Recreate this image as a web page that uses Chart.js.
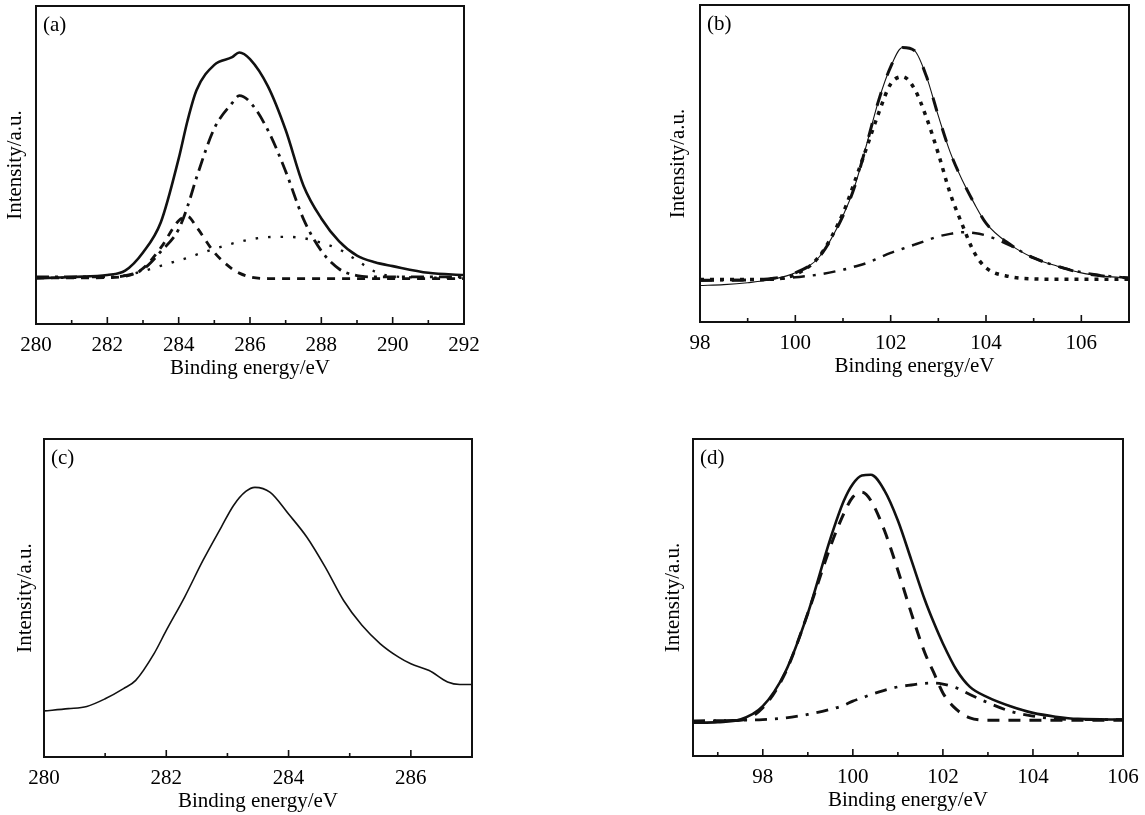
<!DOCTYPE html>
<html>
<head>
<meta charset="utf-8">
<script src="https://cdn.jsdelivr.net/npm/chart.js@4/dist/chart.umd.min.js"></script>
<style>
  html, body { margin:0; padding:0; background:#fff; overflow:hidden; width:1145px; height:815px; }
  canvas { position:absolute; }
</style>
</head>
<body>
<canvas id="ca"></canvas>
<canvas id="cb"></canvas>
<canvas id="cc"></canvas>
<canvas id="cd"></canvas>
<script>
// ---------------- DATA ----------------
// Panel (a): C 1s region
const aEnergy  = [280, 281, 282, 282.5, 283, 283.5, 284, 284.25, 284.5, 285, 285.5, 285.7, 286, 286.5, 287, 287.5, 288, 288.5, 289, 289.5, 290, 291, 292];
const aTotal   = [14.3, 14.8, 15.4, 16.8, 22.5, 32, 52, 64, 73.5, 81.5, 83.9, 85.4, 83.3, 74.8, 61, 43.5, 33.2, 26, 21.5, 19.4, 18.2, 16.1, 15.4];
const aMain    = [14.8, 14.8, 14.8, 15.2, 17.2, 22.8, 29.8, 37, 46, 61.5, 69.5, 71.8, 69.8, 61, 48, 33, 23, 17.3, 15.2, 14.8, 14.8, 14.8, 14.8];
const aLow     = [14.5, 14.5, 14.6, 15, 17.5, 24, 32.5, 33.8, 30.5, 22.5, 17.3, 16, 14.8, 14.3, 14.3, 14.3, 14.3, 14.3, 14.3, 14.3, 14.3, 14.3, 14.3];
const aBroad   = [14.5, 14.5, 14.6, 15.3, 16.6, 18.3, 20, 20.8, 21.8, 23.6, 25.3, 25.8, 26.6, 27.3, 27.4, 27, 25.5, 23.5, 20, 16.5, 15, 14.6, 14.5];
const aTicks   = [280, 282, 284, 286, 288, 290, 292];

// Panel (b): Si 2p region
const bEnergy  = [98, 98.5, 99, 99.5, 100, 100.5, 101, 101.25, 101.5, 101.75, 102, 102.25, 102.5, 102.75, 103, 103.25, 103.5, 103.75, 104, 104.5, 105, 105.5, 106, 106.5, 107];
const bTotal   = [11.5, 11.8, 12.4, 13.4, 15.5, 20.5, 33.5, 43, 56.3, 70, 80.5, 86.6, 85.6, 77.5, 65, 53.5, 44.8, 37.5, 31.2, 24.5, 20.2, 17.6, 15.5, 14.4, 13.9];
const bFit     = [13.2, 13.2, 13.3, 13.7, 15.5, 20.5, 33.5, 43, 56.3, 70, 80.5, 86.6, 85.6, 77.5, 65, 53.5, 44.8, 37.5, 31.2, 24.5, 20.2, 17.6, 15.5, 14.4, 13.9];
const bMain    = [13.4, 13.4, 13.4, 13.5, 15, 20.7, 34.3, 44.5, 55.2, 66, 75.1, 77.4, 73.5, 64.5, 53.1, 40.5, 30.8, 22, 17.1, 14.3, 13.6, 13.5, 13.5, 13.5, 13.5];
const bHigh    = [13.1, 13.2, 13.3, 13.4, 14.1, 15, 16.5, 17.5, 18.6, 20.2, 21.8, 23.1, 24.4, 25.7, 27, 27.8, 28.3, 28.1, 27.3, 24.2, 20.2, 17.6, 15.7, 14.6, 13.9];
const bTicks   = [98, 100, 102, 104, 106];

// Panel (c): C 1s region
const cEnergy  = [280, 280.4, 280.7, 281, 281.3, 281.5, 281.8, 282, 282.3, 282.6, 282.9, 283.1, 283.3, 283.45, 283.7, 284, 284.3, 284.6, 284.9, 285.2, 285.5, 285.8, 286, 286.3, 286.6, 286.8, 287];
const cTotal   = [14.5, 15.2, 15.9, 18.3, 21.5, 24.1, 32.5, 39.8, 50.3, 61.8, 72.3, 79.1, 83.5, 84.8, 83.2, 76.4, 69.1, 59.7, 49.2, 41.4, 35.6, 31.4, 29.3, 27.2, 23.6, 22.8, 22.8];
const cTicks   = [280, 282, 284, 286];

// Panel (d): Si 2p region
const dEnergy  = [96.45, 97, 97.5, 98, 98.5, 99, 99.5, 99.8, 100, 100.2, 100.4, 100.7, 101, 101.3, 101.6, 101.8, 102, 102.3, 102.6, 103, 103.5, 104, 104.5, 105, 106];
const dTotal   = [10.5, 10.7, 11.5, 15.7, 26.5, 45, 68.5, 80.5, 85.8, 88.5, 88.7, 83.8, 74.3, 61.8, 49.2, 42, 35.5, 27.2, 21.8, 18.5, 15.7, 13.6, 12.4, 11.7, 11.5];
const dMain    = [11, 11.1, 11.3, 15.2, 26.2, 45, 66, 76.5, 81.7, 83.2, 80.6, 71.2, 58.6, 45, 32.5, 26.2, 19.9, 14.7, 12, 11.3, 11.3, 11.3, 11.3, 11.3, 11.3];
const dHigh    = [11, 11.1, 11.3, 11.5, 12, 13.1, 14.7, 16, 17.3, 18.3, 19.4, 20.7, 21.8, 22.4, 22.9, 23, 22.7, 21.5, 19.4, 16.8, 14.1, 12.6, 11.7, 11.5, 11.5];
const dTicks   = [98, 100, 102, 104, 106];

// ---------------- RENDERING ----------------
const FONT = "'Liberation Serif', 'Times New Roman', serif";
const FS = 21;
Chart.defaults.font.family = FONT;
Chart.defaults.font.size = FS;
Chart.defaults.color = '#000';

const INK = '#111';
const Y_AXIS_W = 36;
const X_AXIS_H = 60;

const framePlugin = {
  id: 'frame',
  afterDatasetsDraw(chart, args, opts) {
    const { ctx, chartArea: ca } = chart;
    const xs = chart.scales.x;
    ctx.save();
    ctx.strokeStyle = INK;
    ctx.lineWidth = 2;
    ctx.strokeRect(ca.left, ca.top, ca.right - ca.left, ca.bottom - ca.top);
    // inward tick marks on bottom axis
    ctx.lineWidth = 1.6;
    const major = opts.major || [];
    for (let v = Math.ceil(xs.min); v <= Math.floor(xs.max); v += 1) {
      const px = xs.getPixelForValue(v);
      if (px <= ca.left + 1 || px >= ca.right - 1) continue;
      const len = major.includes(v) ? 7 : 4;
      ctx.beginPath();
      ctx.moveTo(px, ca.bottom);
      ctx.lineTo(px, ca.bottom - len);
      ctx.stroke();
    }
    // panel label
    ctx.fillStyle = '#000';
    ctx.font = FS + 'px ' + FONT;
    ctx.textBaseline = 'middle';
    ctx.textAlign = 'left';
    ctx.fillText(opts.label || '', ca.left + 7, ca.top + 19);
    ctx.restore();
  }
};

function makePanel(id, rect, energy, series, ticks, xmin, xmax, label, yPad, rightPad) {
  const canvas = document.getElementById(id);
  const w = (rect.R - rect.L) + Y_AXIS_W + rightPad;
  const h = (rect.B - rect.T) + 2 + X_AXIS_H;
  canvas.width = w; canvas.height = h;
  canvas.style.width = w + 'px'; canvas.style.height = h + 'px';
  canvas.style.left = (rect.L - Y_AXIS_W) + 'px';
  canvas.style.top = (rect.T - 2) + 'px';

  const datasets = series.map(s => ({
    data: energy.map((x, i) => ({ x: x, y: s.values[i] })),
    borderColor: INK,
    borderWidth: s.width,
    borderDash: s.dash || [],
    borderCapStyle: s.cap || 'butt',
    pointRadius: 0,
    fill: false,
    cubicInterpolationMode: 'monotone'
  }));

  return new Chart(canvas, {
    type: 'line',
    data: { datasets },
    plugins: [framePlugin],
    options: {
      responsive: false,
      animation: false,
      devicePixelRatio: 1,
      layout: { padding: { top: 2, right: rightPad, left: 0, bottom: 0 } },
      plugins: { legend: { display: false }, tooltip: { enabled: false }, title: { display: false },
                 frame: { label: label, major: ticks } },
      scales: {
        x: {
          type: 'linear', min: xmin, max: xmax,
          afterBuildTicks: s => { s.ticks = ticks.map(v => ({ value: v })); },
          afterFit: s => { s.height = X_AXIS_H; },
          grid: { display: false },
          border: { display: false },
          ticks: { padding: 1, maxRotation: 0, autoSkip: false, color: '#000', font: { size: FS } },
          title: { display: true, text: 'Binding energy/eV', color: '#000', font: { size: FS }, padding: { top: 0, bottom: 3 } }
        },
        y: {
          min: 0, max: 100,
          afterFit: s => { s.width = Y_AXIS_W; },
          grid: { display: false },
          border: { display: false },
          ticks: { display: false },
          title: { display: true, text: 'Intensity/a.u.', color: '#000', font: { size: FS }, padding: { top: yPad, bottom: 0 } }
        }
      }
    }
  });
}

makePanel('ca', { L: 36, T: 6, R: 464, B: 324 }, aEnergy, [
  { values: aBroad, width: 2.4, dash: [2.5, 10] },
  { values: aLow,   width: 2.8, dash: [8, 7] },
  { values: aMain,  width: 2.8, dash: [13, 6, 3, 6] },
  { values: aTotal, width: 2.6 }
], aTicks, 280, 292, '(a)', 2.4, 20);

makePanel('cb', { L: 700, T: 5, R: 1129, B: 322 }, bEnergy, [
  { values: bHigh,  width: 2.5, dash: [12, 8, 3, 8] },
  { values: bMain,  width: 3.5, dash: [4, 6] },
  { values: bTotal, width: 1.1 },
  { values: bFit,   width: 3, dash: [14, 18] }
], bTicks, 98, 107, '(b)', 1.4, 16);

makePanel('cc', { L: 44, T: 439, R: 472, B: 757 }, cEnergy, [
  { values: cTotal, width: 1.6 }
], cTicks, 280, 287, '(c)', 4.4, 20);

makePanel('cd', { L: 693, T: 439, R: 1123, B: 756 }, dEnergy, [
  { values: dHigh,  width: 2.8, dash: [12, 8, 3, 8] },
  { values: dMain,  width: 3, dash: [12, 9] },
  { values: dTotal, width: 2.6 }
], dTicks, 96.45, 106, '(d)', 3.4, 20);
</script>
</body>
</html>
